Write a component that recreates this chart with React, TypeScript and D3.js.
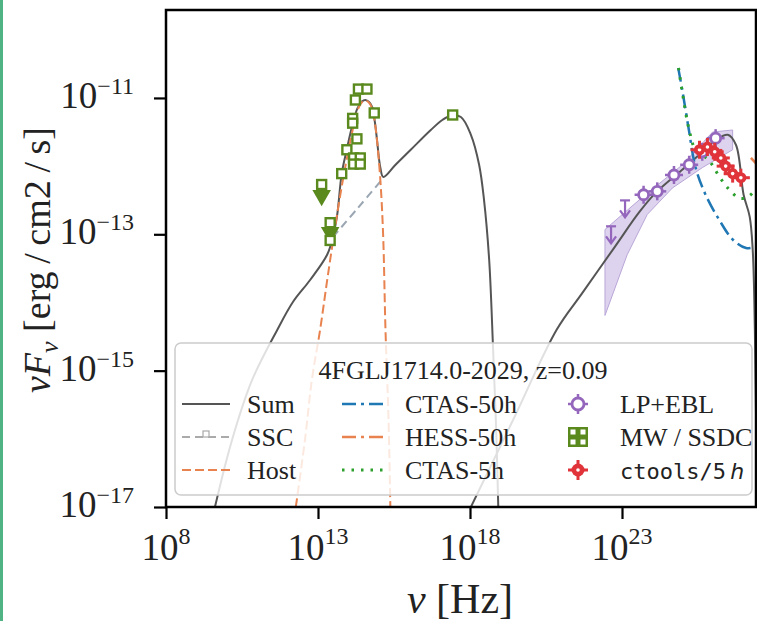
import React, { useEffect, useRef } from 'react';
import * as d3 from 'd3';

// all values are log10(nu [Hz]), log10(nuFnu [erg/cm2/s])
const sumSync: [number, number][] = [
  [9.61, -17], [10.17, -16.02], [10.83, -15.14], [11.65, -14.41], [12.18, -13.99],
  [12.74, -13.67], [13.3, -13.3], [13.49, -13.04], [13.63, -12.72],
  [13.78, -12.11], [13.95, -11.75], [14.12, -11.42], [14.3, -11.15], [14.45, -11.05],
  [14.56, -11.03], [14.68, -11.06], [14.78, -11.13], [14.87, -11.35], [14.94, -11.61],
  [15.05, -12.02], [15.15, -12.16], [15.55, -11.98], [16.05, -11.76], [16.71, -11.47],
  [17.1, -11.32], [17.37, -11.26], [17.7, -11.28], [18.03, -11.54], [18.3, -11.98],
  [18.46, -12.49], [18.63, -13.37], [18.76, -14.69], [18.86, -15.86], [18.93, -17],
];
const sumCompton: [number, number][] = [
  [18.03, -17], [19.42, -15.72], [20.85, -14.4], [21.68, -13.87], [22.77, -13.18],
  [23.56, -12.68], [24.09, -12.4], [24.99, -12.05], [25.42, -11.88], [26.08, -11.62],
  [26.48, -11.54], [26.75, -11.69], [27.0, -12.42], [27.2, -12.74], [27.3, -13.23],
  [27.37, -14.4], [27.44, -17],
];
const sscLine: [number, number][] = [[13.49, -13.04], [14.3, -12.62], [15.12, -12.19]];
const hostLine: [number, number][] = [
  [12.27, -17], [12.57, -16.02], [12.8, -15.13], [13.07, -14.4], [13.29, -13.71],
  [13.5, -13.08], [13.78, -12.3], [14.12, -11.51], [14.3, -11.18], [14.45, -11.06],
  [14.56, -11.04], [14.68, -11.07], [14.78, -11.15], [14.87, -11.36], [14.94, -11.62],
  [15.05, -12.2], [15.14, -12.98], [15.22, -14.4], [15.32, -15.71], [15.38, -17],
];
const ctas50h: [number, number][] = [
  [24.85, -10.56], [25.0, -10.93], [25.2, -11.47], [25.42, -12.02], [25.75, -12.42],
  [26.2, -12.79], [26.65, -13.08], [27.08, -13.2], [27.42, -13.18], [27.6, -13.14],
];
const hess50h: [number, number][] = [[27.24, -11.88], [27.6, -12.05]];
const ctas5h: [number, number][] = [
  [24.86, -10.56], [25.0, -10.96], [25.21, -11.47], [25.42, -11.76], [25.85, -11.91],
  [26.21, -12.16], [26.54, -12.35], [26.87, -12.47], [27.14, -12.45], [27.38, -12.35],
  [27.6, -12.18],
];
const mwPoints: [number, number][] = [
  [14.33, -10.87], [14.61, -10.87], [14.23, -11.03], [14.85, -11.22], [14.14, -11.3],
  [14.14, -11.37], [14.28, -11.6], [13.95, -11.76], [14.17, -11.88], [14.39, -11.88],
  [14.17, -11.97], [14.39, -11.97], [13.78, -12.11], [17.43, -11.25],
  [13.12, -12.27], [13.4, -12.83], [13.4, -13.09],
];
const mwUpperLimits: [number, number][] = [[13.12, -12.43], [13.4, -12.97]];
const lpPoints: [number, number][] = [
  [23.71, -12.42], [24.16, -12.37], [24.71, -12.13], [25.21, -11.98], [25.64, -11.79], [26.08, -11.59],
];
const lpUpperLimits: [number, number][] = [[23.1, -12.62], [22.64, -13.0]];
const lpBand: [number, number][] = [
  [22.44, -12.93], [23.66, -12.46], [24.99, -11.98], [25.98, -11.5], [26.64, -11.47],
  [26.64, -11.76], [25.65, -12.02], [24.66, -12.32], [23.83, -12.71], [23.17, -13.3], [22.44, -14.19],
];
const ctoolsPoints: [number, number][] = [
  [25.55, -11.76], [25.81, -11.72], [26.05, -11.79], [26.25, -11.88], [26.41, -12.0],
  [26.64, -12.11], [26.91, -12.17],
];
const xTicks = [8, 13, 18, 23];
const yTicks = [-11, -13, -15, -17];
const legendTitle = '4FGLJ1714.0-2029, z=0.09';

const W = 757, H = 621;
const L = 166, R = 756, T = 10, B = 507;
const serif = '"Liberation Serif", "DejaVu Serif", serif';

const gray = '#555555';
const orange = '#e8824f';
const blue = '#1f77b4';
const green = '#2ca02c';
const purple = '#9467bd';
const olive = '#5a8a1e';
const red = '#e0333a';

export default function App() {
  const xAxisRef = useRef<SVGGElement>(null);
  const yAxisRef = useRef<SVGGElement>(null);

  const x = d3.scaleLog().domain([1e8, Math.pow(10, 27.5)]).range([L, L + 19.5 * 30.4]);
  const y = d3.scaleLog().domain([1e-17, Math.pow(10, -9.71)]).range([B, T]);
  const px = (d: [number, number]) => x(Math.pow(10, d[0]));
  const py = (d: [number, number]) => y(Math.pow(10, d[1]));

  const line = d3.line<[number, number]>().x(px).y(py).curve(d3.curveCatmullRom.alpha(0.5));
  const poly = d3.line<[number, number]>().x(px).y(py);
  const tri = d3.symbol().type(d3.symbolTriangle).size(150)();

  useEffect(() => {
    const xa = d3.axisBottom(x).tickValues(xTicks.map(t => Math.pow(10, t))).tickSize(12).tickFormat(() => '');
    const ya = d3.axisLeft(y).tickValues(yTicks.map(t => Math.pow(10, t))).tickSize(12).tickFormat(() => '');
    d3.select(xAxisRef.current).call(xa as any);
    d3.select(yAxisRef.current).call(ya as any);
    [xAxisRef, yAxisRef].forEach(r => {
      const g = d3.select(r.current);
      g.select('.domain').remove();
      g.selectAll('line').attr('stroke', '#000').attr('stroke-width', 2.2);
    });
  }, []);

  const rows = [404, 437, 470];

  const lpMarker = (cx: number, cy: number, r: number, key: any) => (
    <g key={key}>
      <line x1={cx - r - 4} x2={cx + r + 4} y1={cy} y2={cy} stroke={purple} strokeWidth={2.5} />
      <line x1={cx} x2={cx} y1={cy - r - 4} y2={cy + r + 4} stroke={purple} strokeWidth={2.5} />
      <circle cx={cx} cy={cy} r={r} fill="white" stroke={purple} strokeWidth={2.8} />
    </g>
  );
  const redMarker = (cx: number, cy: number, r: number, key: any) => (
    <g key={key}>
      <line x1={cx - r - 4} x2={cx + r + 4} y1={cy} y2={cy} stroke={red} strokeWidth={3} />
      <line x1={cx} x2={cx} y1={cy - r - 4} y2={cy + r + 4} stroke={red} strokeWidth={3} />
      <circle cx={cx} cy={cy} r={r + 0.5} fill={red} />
      <circle cx={cx} cy={cy} r={1.8} fill="white" />
    </g>
  );

  return (
    <svg width={W} height={H} style={{ position: 'absolute', left: 0, top: 0, background: 'white' }} fontFamily={serif}>
      <rect x={0} y={0} width={W} height={H} fill="white" />
      <rect x={0} y={0} width={3} height={H} fill="#4fb383" />
      <defs>
        <clipPath id="plot">
          <rect x={L} y={T} width={R - L} height={B - T} />
        </clipPath>
      </defs>

      <g clipPath="url(#plot)">
        <path d={poly(lpBand) + 'Z'} fill="#c8b6e2" fillOpacity={0.6} stroke="#b9a6d8" strokeWidth={1} />
        <path d={line(sumSync) || ''} fill="none" stroke={gray} strokeWidth={2} />
        <path d={line(sumCompton) || ''} fill="none" stroke={gray} strokeWidth={2} />
        <path d={line(sscLine) || ''} fill="none" stroke="#9aa6b2" strokeWidth={2} strokeDasharray="8,5" />
        <path d={line(hostLine) || ''} fill="none" stroke={orange} strokeWidth={2} strokeDasharray="9,4" />
        <path d={line(ctas50h) || ''} fill="none" stroke={blue} strokeWidth={2.5} strokeDasharray="14,5,3,5" />
        <path d={line(ctas5h) || ''} fill="none" stroke={green} strokeWidth={3} strokeDasharray="2.5,7" />
        <path d={line(hess50h) || ''} fill="none" stroke={orange} strokeWidth={2.5} strokeDasharray="14,5,3,5" />

        {lpUpperLimits.map((d, i) => {
          const cx = px(d), cy = py(d);
          return (
            <g key={'lu' + i} stroke={purple} strokeWidth={2.2} fill="none">
              <line x1={cx - 5} x2={cx + 5} y1={cy - 8} y2={cy - 8} />
              <line x1={cx} x2={cx} y1={cy - 8} y2={cy + 8} />
              <path d={`M${cx - 5},${cy + 2}L${cx},${cy + 9}L${cx + 5},${cy + 2}`} />
            </g>
          );
        })}
        {lpPoints.map((d, i) => lpMarker(px(d), py(d), 5, 'lp' + i))}

        {mwUpperLimits.map((d, i) => (
          <path key={'mu' + i} d={tri || ''} transform={`translate(${px(d)},${py(d)}) rotate(180)`} fill={olive} />
        ))}
        {mwPoints.map((d, i) => (
          <rect key={'mw' + i} x={px(d) - 4.5} y={py(d) - 4.5} width={9} height={9} fill="white" stroke={olive} strokeWidth={2.4} />
        ))}

        {ctoolsPoints.map((d, i) => redMarker(px(d), py(d), 5, 'ct' + i))}
      </g>

      <g ref={xAxisRef} transform={`translate(0,${B})`} />
      <g ref={yAxisRef} transform={`translate(${L},0)`} />
      <rect x={L} y={T} width={R - L} height={B - T} fill="none" stroke="#000" strokeWidth={2.5} />

      {xTicks.map(t => (
        <text key={'xt' + t} x={x(Math.pow(10, t))} y={560} textAnchor="middle" fontSize={37} fill="#222">
          10<tspan dy={-16} fontSize={24}>{t}</tspan>
        </text>
      ))}
      {yTicks.map(t => (
        <text key={'yt' + t} x={134} y={y(Math.pow(10, t)) + 10} textAnchor="end" fontSize={37} fill="#222">
          10<tspan dy={-14} fontSize={24}>{'\u2212' + Math.abs(t)}</tspan>
        </text>
      ))}

      <text x={460} y={613} textAnchor="middle" fontSize={42} fill="#222">
        <tspan fontStyle="italic">ν</tspan> [Hz]
      </text>
      <text transform="translate(50,260) rotate(-90)" textAnchor="middle" fontSize={38} fill="#222">
        <tspan fontStyle="italic">νF</tspan>
        <tspan fontStyle="italic" fontSize={26} dy={8}>ν</tspan>
        <tspan dy={-8}>{' [erg\u2009/\u2009cm2\u2009/\u2009s]'}</tspan>
      </text>

      {/* legend */}
      <rect x={175} y={343} width={577} height={152} rx={6} fill="white" fillOpacity={0.82} stroke="#cccccc" strokeWidth={1.5} />
      <text x={463} y={379} textAnchor="middle" fontSize={26} fill="#222">{legendTitle}</text>

      <line x1={182} x2={230} y1={rows[0]} y2={rows[0]} stroke={gray} strokeWidth={2} />
      <line x1={182} x2={230} y1={rows[1]} y2={rows[1]} stroke="#aaaaaa" strokeWidth={2} strokeDasharray="8,5" />
      <rect x={203} y={rows[1] - 6} width={6} height={6} fill="white" stroke="#aaaaaa" strokeWidth={1.2} />
      <line x1={182} x2={230} y1={rows[2]} y2={rows[2]} stroke={orange} strokeWidth={2} strokeDasharray="9,4" />
      {['Sum', 'SSC', 'Host'].map((s, i) => (
        <text key={s} x={247} y={rows[i] + 9} fontSize={26} fill="#222">{s}</text>
      ))}

      <line x1={342} x2={388} y1={rows[0]} y2={rows[0]} stroke={blue} strokeWidth={2.5} strokeDasharray="14,5,3,5" />
      <line x1={342} x2={388} y1={rows[1]} y2={rows[1]} stroke={orange} strokeWidth={2.5} strokeDasharray="14,5,3,5" />
      <line x1={342} x2={388} y1={rows[2]} y2={rows[2]} stroke={green} strokeWidth={3} strokeDasharray="2.5,7" />
      {['CTAS-50h', 'HESS-50h', 'CTAS-5h'].map((s, i) => (
        <text key={s} x={405} y={rows[i] + 9} fontSize={26} fill="#222">{s}</text>
      ))}

      {lpMarker(578, rows[0], 6, 'leglp')}
      <g>
        <rect x={568} y={rows[1] - 10} width={20} height={20} fill={olive} />
        {[[-5, -5], [5, -5], [-5, 5], [5, 5]].map(([dx, dy], i) => (
          <rect key={i} x={578 + dx - 2.5} y={rows[1] + dy - 2.5} width={5} height={5} fill="white" />
        ))}
      </g>
      {redMarker(578, rows[2], 6, 'legct')}
      <text x={620} y={rows[0] + 9} fontSize={26} fill="#222">LP+EBL</text>
      <text x={620} y={rows[1] + 9} fontSize={26} fill="#222">MW / SSDC</text>
      <text x={620} y={rows[2] + 9} fill="#222">
        <tspan fontFamily='"DejaVu Sans Mono", monospace' fontSize={22}>ctools/5</tspan>
        <tspan fontFamily='"DejaVu Sans", sans-serif' fontStyle="italic" fontSize={22}>{'\u2009h'}</tspan>
      </text>
    </svg>
  );
}
